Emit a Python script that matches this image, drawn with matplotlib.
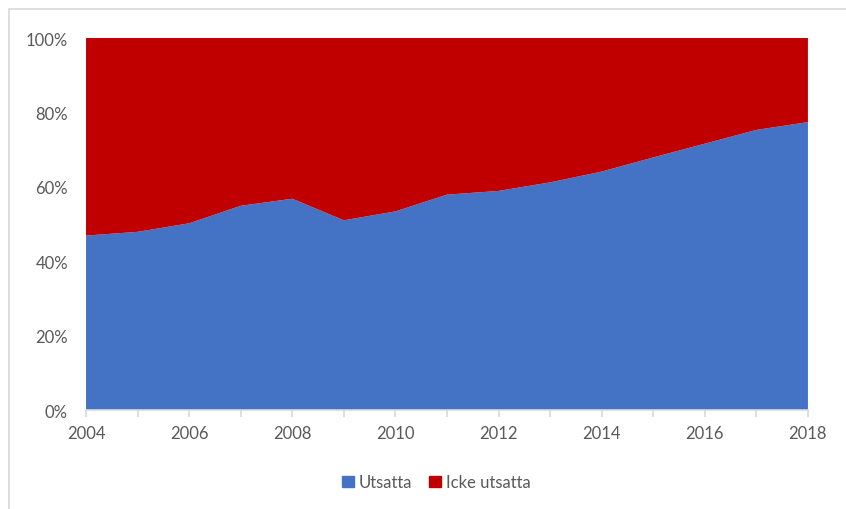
import matplotlib.pyplot as plt
import matplotlib.patches as mpatches
from matplotlib.ticker import FuncFormatter

years = [2004, 2005, 2006, 2007, 2008, 2009, 2010, 2011, 2012, 2013, 2014, 2015, 2016, 2017, 2018]
utsatta = [46.9, 47.9, 50.2, 54.9, 56.8, 51.0, 53.4, 57.9, 58.9, 61.2, 64.1, 67.9, 71.6, 75.3, 77.4]
icke_utsatta = [100 - v for v in utsatta]
labels = ["Utsatta", "Icke utsatta"]
colors = ["#4472C4", "#C00000"]

plt.rcParams['font.family'] = ['Lato', 'DejaVu Sans']

fig = plt.figure(figsize=(8.46, 5.10), dpi=100)
ax = fig.add_axes([0.1017, 0.194, 0.8533, 0.7295])

ax.stackplot(years, utsatta, icke_utsatta, colors=colors, labels=labels, linewidth=0)

ax.set_xlim(years[0], years[-1])
ax.set_ylim(0, 100)
ax.set_yticks(range(0, 101, 20))
ax.yaxis.set_major_formatter(FuncFormatter(lambda v, p: f"{v:.0f}%"))
ax.set_xticks(range(2004, 2019, 2))
ax.set_xticks(years, minor=True)

for s in ["top", "right", "left"]:
    ax.spines[s].set_visible(False)
ax.spines["bottom"].set_color("#D9D9D9")
ax.spines["bottom"].set_linewidth(1.2)

ax.tick_params(axis="y", length=0, pad=13, labelsize=12, labelcolor="#595959")
ax.tick_params(axis="x", which="both", length=5, width=1.2, color="#D9D9D9",
               labelsize=12, labelcolor="#595959", pad=6)

handles = [mpatches.Patch(color=c, label=l) for c, l in zip(colors, labels)]
leg = fig.legend(handles=handles, loc="center", bbox_to_anchor=(0.516, 0.052), ncol=2,
                 frameon=False, fontsize=12, handlelength=0.7, handleheight=0.7,
                 handletextpad=0.3, columnspacing=1.0)
for t in leg.get_texts():
    t.set_color("#595959")

# chart area border
fig.patches.append(mpatches.Rectangle((9 / 846, -0.05), 1.0, 1 - 10 / 510 + 0.05,
                                      transform=fig.transFigure, fill=False,
                                      edgecolor="#D9D9D9", linewidth=1.2))

fig.savefig("out.png", dpi=100)
